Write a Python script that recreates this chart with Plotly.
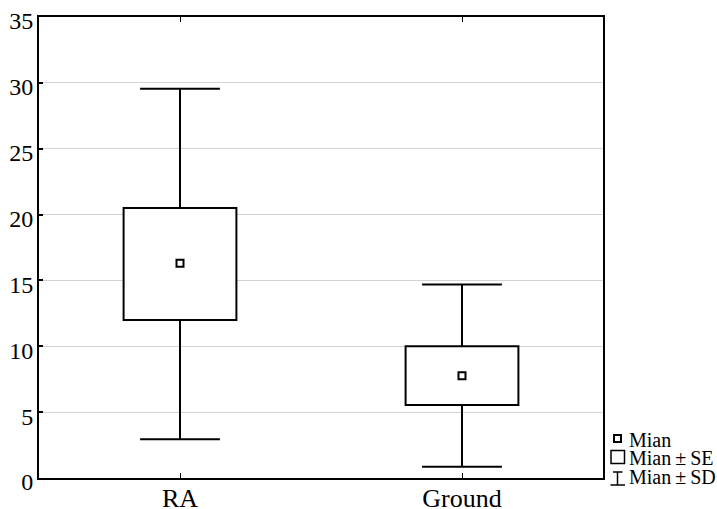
import plotly.graph_objects as go

categories = ["RA", "Ground"]
means = [16.3, 7.77]
se_low = [12.0, 5.55]
se_high = [20.5, 10.0]
sd_low = [2.95, 0.85]
sd_high = [29.55, 14.7]
y_ticks = [0, 5, 10, 15, 20, 25, 30, 35]
legend_labels = ["Mian", "Mian\u2009\u00b1\u2009SE", "Mian\u2009\u00b1\u2009SD"]

FONT = "Liberation Serif"

fig = go.Figure()
# Mean ± SE box
fig.add_trace(go.Bar(
    x=categories, base=se_low,
    y=[h - l for h, l in zip(se_high, se_low)],
    width=0.4,
    marker=dict(color="white", line=dict(color="black", width=2)),
    hoverinfo="skip", showlegend=False,
))
# whiskers (Mean ± SD)
wx, wy = [], []
for c, lo, hi, slo, shi in zip(categories, se_low, se_high, sd_low, sd_high):
    wx += [c, c, None, c, c, None]
    wy += [hi, shi, None, lo, slo, None]
fig.add_trace(go.Scatter(
    x=wx, y=wy, mode="lines", line=dict(color="black", width=2),
    hoverinfo="skip", showlegend=False,
))
fig.add_trace(go.Scatter(
    x=categories + categories, y=sd_high + sd_low, mode="markers",
    marker=dict(symbol="line-ew", size=57, color="black", line=dict(color="black", width=2)),
    hoverinfo="skip", showlegend=False,
))
# mean
fig.add_trace(go.Scatter(
    x=categories, y=means, mode="markers",
    marker=dict(symbol="square-open", size=7, color="black", line=dict(width=2)),
    showlegend=False,
))

# plot area in page pixels
L, T, W, H = 39, 17, 564, 461
def px(x):
    return (x - L) / W
def py(y):
    return (T + H - y) / H

shapes = [
    dict(type="rect", xref="paper", yref="paper", x0=px(614), x1=px(621), y0=py(442), y1=py(435),
         line=dict(color="black", width=2), fillcolor="white"),
    dict(type="rect", xref="paper", yref="paper", x0=px(611), x1=px(624.5), y0=py(463.5), y1=py(450.5),
         line=dict(color="black", width=1.5), fillcolor="white"),
    dict(type="line", xref="paper", yref="paper", x0=px(617.5), x1=px(617.5), y0=py(472), y1=py(485),
         line=dict(color="black", width=1.5)),
    dict(type="line", xref="paper", yref="paper", x0=px(613), x1=px(622.5), y0=py(472), y1=py(472),
         line=dict(color="black", width=1.5)),
    dict(type="line", xref="paper", yref="paper", x0=px(610.5), x1=px(625), y0=py(485), y1=py(485),
         line=dict(color="black", width=1.5)),
]
annotations = []
for lab, yc in zip(legend_labels, [439.5, 457.5, 476.5]):
    annotations.append(dict(
        text=lab, xref="paper", yref="paper", x=px(627), y=py(yc),
        xanchor="left", yanchor="middle", showarrow=False,
        font=dict(family=FONT, size=20, color="black"),
    ))

fig.update_layout(
    width=717, height=509,
    margin=dict(l=L, r=717 - L - W, t=T, b=509 - T - H, autoexpand=False),
    plot_bgcolor="white", paper_bgcolor="white",
    font=dict(family=FONT, size=24, color="black"),
    shapes=shapes, annotations=annotations,
    showlegend=False,
)
fig.update_xaxes(
    type="category", range=[-0.5, 1.5], automargin=False,
    showline=True, linecolor="black", linewidth=2, mirror="ticks",
    ticks="inside", ticklen=5, tickwidth=1, tickcolor="black",
    showgrid=False, zeroline=False, ticklabeloverflow="allow",
    ticklabelstandoff=-4,
    tickfont=dict(family=FONT, size=26, color="black"),
)
fig.update_yaxes(
    range=[0, 35], tickvals=y_ticks, automargin=False,
    showline=True, linecolor="black", linewidth=2, mirror=True,
    ticks="inside", ticklen=4, tickwidth=2, tickcolor="black",
    showgrid=True, gridcolor="#d3d3d3", gridwidth=1, zeroline=False,
    ticklabeloverflow="allow", ticklabelshift=4, ticklabelstandoff=-1,
    tickfont=dict(family=FONT, size=24, color="black"),
)

fig.write_html("out.html", config={"displayModeBar": False},
               post_script="document.body.style.margin='0';")
